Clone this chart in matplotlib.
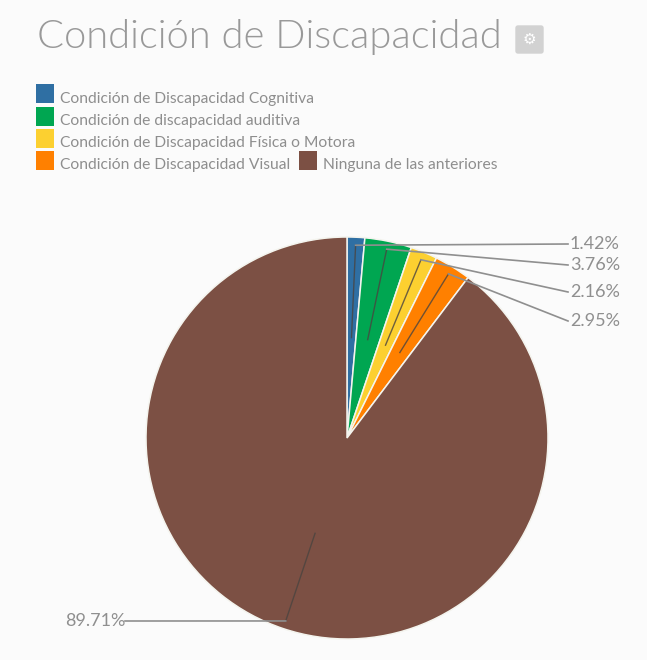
import numpy as np
import matplotlib
matplotlib.use("Agg")
import matplotlib.pyplot as plt
from matplotlib.patches import Rectangle, FancyBboxPatch

title = "Condición de Discapacidad"
categories = ["Condición de Discapacidad Cognitiva", "Condición de discapacidad auditiva",
              "Condición de Discapacidad Física o Motora", "Condición de Discapacidad Visual",
              "Ninguna de las anteriores"]
values = [1.42, 3.76, 2.16, 2.95, 89.71]
colors = ["#2f6fa3", "#00a651", "#fcd030", "#ff8000", "#7c5044"]
label_xy = [(570, 244), (570, 265), (570, 292), (570, 321), (125, 621)]

W, H = 647, 660
fig = plt.figure(figsize=(W / 100, H / 100), dpi=100, facecolor="#fbfbfb")
ax = fig.add_axes([0, 0, 1, 1])
ax.set_xlim(0, W)
ax.set_ylim(H, 0)
ax.axis("off")

cx, cy, R = 347, 438, 201
pie_ax = fig.add_axes([(cx - R) / W, 1 - (cy + R) / H, 2 * R / W, 2 * R / H])
pie_ax.pie(values, colors=colors, startangle=90, counterclock=False, radius=1,
           wedgeprops=dict(edgecolor="#f4f4ee", linewidth=1.1))
pie_ax.set_xlim(-1, 1)
pie_ax.set_ylim(-1, 1)
pie_ax.set_zorder(1)
ax.set_zorder(2)

total = sum(values)
cum = 0
for v, (lx, ly) in zip(values, label_xy):
    theta = 2 * np.pi * (cum + v / 2) / total
    cum += v
    s, c = np.sin(theta), np.cos(theta)
    start = (cx + 0.5 * R * s, cy - 0.5 * R * c)
    elbow = (cx + 0.96 * R * s, cy - 0.96 * R * c)
    ax.plot([start[0], elbow[0]], [start[1], elbow[1]], color="#4a4440", lw=1.0, alpha=0.8)
    ax.plot([elbow[0], lx - 2 if lx > cx else lx], [elbow[1], ly], color="#8f8f8f", lw=1.2)
    ha = "left" if lx > cx else "right"
    ax.text(lx, ly, f"{v:.2f}%", ha=ha, va="center", fontsize=13, color="#8f8f8f", family="Lato")

ax.text(37, 37, title, fontsize=28.7, color="#999999", family="Lato", fontweight=300,
        va="center", ha="left")
ax.add_patch(FancyBboxPatch((516, 26), 27, 27, boxstyle="round,pad=0,rounding_size=2",
                            fc="#d2d2d2", ec="#d2d2d2", lw=1))
ax.text(529.5, 39.5, "\u2699", fontsize=11, color="white", ha="center", va="center", family="DejaVu Sans")

rows = [(36, 84), (36, 107), (36, 129), (36, 151), (299, 151)]
for name, col, (x, y) in zip(categories, colors, rows):
    ax.add_patch(Rectangle((x, y), 18, 19, fc=col, ec="none"))
    ax.text(x + 24, y + 14.5, name, fontsize=11.25, color="#8e8e8e", family="Lato", va="center", ha="left")

fig.savefig("out.png", dpi=100, facecolor=fig.get_facecolor())
